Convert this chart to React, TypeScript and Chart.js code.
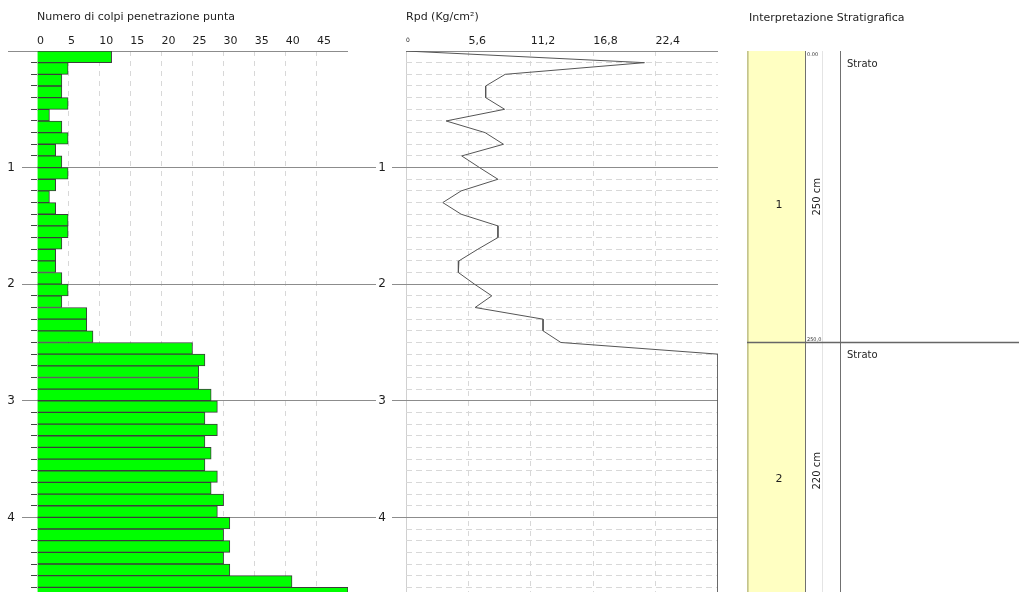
import React, { useEffect, useRef } from 'react';
import { Chart, registerables } from 'chart.js';

Chart.register(...registerables);

// ---------- data ----------
// bottom depth (m) of each 10 cm penetration step
const DEPTH_M = [
  0.1, 0.2, 0.3, 0.4, 0.5, 0.6, 0.7, 0.8, 0.9, 1.0,
  1.1, 1.2, 1.3, 1.4, 1.5, 1.6, 1.7, 1.8, 1.9, 2.0,
  2.1, 2.2, 2.3, 2.4, 2.5, 2.6, 2.7, 2.8, 2.9, 3.0,
  3.1, 3.2, 3.3, 3.4, 3.5, 3.6, 3.7, 3.8, 3.9, 4.0,
  4.1, 4.2, 4.3, 4.4, 4.5, 4.6, 4.7,
];
const STEP_M = 0.1;

// Numero di colpi penetrazione punta (one value per step)
const BLOWS = [
  12, 5, 4, 4, 5, 2, 4, 5, 3, 4,
  5, 3, 2, 3, 5, 5, 4, 3, 3, 4,
  5, 4, 8, 8, 9, 25, 27, 26, 26, 28,
  29, 27, 29, 27, 28, 27, 29, 28, 30, 29,
  31, 30, 31, 30, 31, 41, 50,
];

// Rpd (Kg/cm²) profile: depth of each vertex and its value (shown clipped at 28)
const RPD_DEPTH_M = [0, ...DEPTH_M];
const RPD = [
  0,
  21.4, 8.9, 7.15, 7.15, 8.85, 3.6, 7.1, 8.75, 5.0, 6.6,
  8.25, 4.95, 3.3, 4.95, 8.25, 8.25, 6.45, 4.75, 4.7, 6.15,
  7.7, 6.2, 12.3, 12.3, 13.9, 28, 28, 28, 28, 28,
  28, 28, 28, 28, 28, 28, 28, 28, 28, 28,
  28, 28, 28, 28, 28, 28, 28,
];

const BLOWS_MAX = 50;
const BLOWS_STEP = 5;
const RPD_MAX = 28;
const RPD_STEP = 5.6;
const DEPTH_MAX = 4.7;

// stratigraphy
const LAYER_TOP_M = [0, 2.5];
const LAYER_BOTTOM_M = [2.5, 4.7];
const LAYER_NO = ['1', '2'];
const LAYER_THICKNESS = ['250 cm', '220 cm'];
const LAYER_DESC = ['Strato', 'Strato'];
const BOUNDARY_DEPTH_M = [0, 2.5, 4.7];
const BOUNDARY_LABEL = ['0.00', '250,0', '470,0'];

const TITLE_BLOWS = 'Numero di colpi penetrazione punta';
const TITLE_RPD = 'Rpd (Kg/cm²)';
const TITLE_STRAT = 'Interpretazione Stratigrafica';

// ---------- styles ----------
const FONT = '"DejaVu Sans", Verdana, sans-serif';
const TEXT = '#1e1e1e';
const MAJOR = '#8c8c8c';
const MINOR = '#d8d8d8';
const CANVAS_H = 599;

const isInt = (v: number) => Math.abs(v - Math.round(v)) < 1e-6;

const noPad = (s: any) => {
  s.paddingTop = 0;
  s.paddingBottom = 0;
  s.paddingLeft = 0;
  s.paddingRight = 0;
};

function useChart(build: (c: HTMLCanvasElement) => Chart) {
  const ref = useRef<HTMLCanvasElement | null>(null);
  useEffect(() => {
    if (!ref.current) return;
    const chart = build(ref.current);
    return () => chart.destroy();
  }, []);
  return ref;
}

function buildBlows(canvas: HTMLCanvasElement) {
  const extendMajor = {
    id: 'extendMajor',
    afterDraw(chart: any) {
      const { ctx, chartArea, scales } = chart;
      const y = scales.y;
      ctx.save();
      ctx.strokeStyle = MAJOR;
      ctx.lineWidth = 1;
      y.ticks.forEach((t: any) => {
        if (t.value > 0 && isInt(t.value)) {
          const py = Math.round(y.getPixelForValue(t.value) - 0.5) + 0.5;
          ctx.beginPath();
          ctx.moveTo(chartArea.right, py);
          ctx.lineTo(chart.width, py);
          ctx.stroke();
        }
      });
      ctx.restore();
    },
  };
  return new Chart(canvas, {
    type: 'bar',
    data: {
      datasets: [
        {
          data: BLOWS.map((n, i) => ({ x: n, y: DEPTH_M[i] - STEP_M / 2 })),
          backgroundColor: '#00ff00',
          borderColor: '#3c3c3c',
          borderWidth: 1,
          borderSkipped: 'start',
          barPercentage: 1,
          categoryPercentage: 1,
        } as any,
      ],
    },
    options: {
      indexAxis: 'y',
      responsive: false,
      animation: false,
      layout: { padding: { left: 0, right: 28, top: 0, bottom: 0 } },
      plugins: { legend: { display: false }, tooltip: { enabled: false } },
      scales: {
        x: {
          type: 'linear',
          position: 'top',
          min: 0,
          max: BLOWS_MAX,
          afterFit: (s: any) => { s.height = 51; noPad(s); },
          border: { display: false, dash: [5, 5] },
          title: {
            display: true,
            text: TITLE_BLOWS,
            align: 'start',
            color: TEXT,
            font: { family: FONT, size: 11 },
            padding: { top: 11, bottom: 0 },
          },
          grid: {
            drawTicks: false,
            color: (c: any) => (c.tick && c.tick.value > 0 && c.tick.value < BLOWS_MAX ? MINOR : 'transparent'),
          },
          ticks: {
            stepSize: BLOWS_STEP,
            padding: 3,
            align: 'start',
            color: TEXT,
            font: { family: FONT, size: 11 },
            maxRotation: 0,
            autoSkip: false,
            callback: (v: any) => (v >= BLOWS_MAX ? '' : String(v)),
          },
        },
        y: {
          type: 'linear',
          reverse: true,
          min: 0,
          max: DEPTH_MAX,
          offset: false,
          afterFit: (s: any) => { s.width = 37; noPad(s); },
          border: { display: false },
          grid: {
            offset: false,
            color: (c: any) => (c.tick && isInt(c.tick.value) ? MAJOR : 'transparent'),
            tickLength: 29,
            tickColor: (c: any) => (c.tick && isInt(c.tick.value) ? MAJOR : '#444'),
            tickBorderDash: (c: any) => {
              const v = c.tick ? c.tick.value : 0;
              if (v < 1e-6) return [];
              if (isInt(v)) return [0, 14, 15, 100];
              return [0, 23, 6, 100];
            },
          },
          ticks: {
            stepSize: STEP_M,
            autoSkip: false,
            padding: -7,
            color: TEXT,
            font: { family: FONT, size: 12 },
            callback: (v: any) => (v > 0 && isInt(v) ? String(Math.round(v)) : ''),
          },
        },
      },
    } as any,
    plugins: [extendMajor],
  });
}

function buildRpd(canvas: HTMLCanvasElement) {
  return new Chart(canvas, {
    type: 'scatter',
    data: {
      datasets: [
        {
          data: RPD.map((v, i) => ({ x: v, y: RPD_DEPTH_M[i] })),
          showLine: true,
          borderColor: '#555555',
          borderWidth: 1,
          pointRadius: 0,
          fill: false,
        } as any,
      ],
    },
    options: {
      responsive: false,
      animation: false,
      layout: { padding: { left: 0, right: 12, top: 0, bottom: 0 } },
      plugins: { legend: { display: false }, tooltip: { enabled: false } },
      scales: {
        x: {
          type: 'linear',
          position: 'top',
          min: 0,
          max: RPD_MAX,
          afterFit: (s: any) => { s.height = 51; noPad(s); },
          border: {
            display: false,
            dash: (c: any) => (c.tick && c.tick.value > 1e-6 ? [5, 5] : []),
          },
          title: {
            display: true,
            text: TITLE_RPD,
            align: 'start',
            color: TEXT,
            font: { family: FONT, size: 11 },
            padding: { top: 11, bottom: 0 },
          },
          grid: {
            drawTicks: false,
            color: (c: any) => {
              const v = c.tick ? c.tick.value : 0;
              if (v >= RPD_MAX - 1e-6) return 'transparent';
              return v < 1e-6 ? '#d0d0d0' : MINOR;
            },
          },
          ticks: {
            stepSize: RPD_STEP,
            padding: 3,
            align: 'start',
            color: TEXT,
            maxRotation: 0,
            autoSkip: false,
            font: (c: any) =>
              c.tick && c.tick.value < 1e-6
                ? { family: FONT, size: 6, lineHeight: 2.6 }
                : { family: FONT, size: 11 },
            callback: (v: any) => {
              if (v >= RPD_MAX - 1e-6) return '';
              if (v < 1e-6) return '0';
              return Number(v).toFixed(1).replace('.', ',');
            },
          },
        },
        y: {
          type: 'linear',
          reverse: true,
          min: 0,
          max: DEPTH_MAX,
          offset: false,
          afterFit: (s: any) => { s.width = 30; noPad(s); },
          border: {
            display: false,
            dash: (c: any) => (c.tick && isInt(c.tick.value) ? [] : [6, 4]),
          },
          grid: {
            offset: false,
            color: (c: any) => (c.tick && isInt(c.tick.value) ? MAJOR : MINOR),
            tickLength: 14,
            tickColor: (c: any) => (c.tick && c.tick.value > 0 && isInt(c.tick.value) ? MAJOR : 'transparent'),
          },
          ticks: {
            stepSize: STEP_M,
            autoSkip: false,
            padding: 6,
            color: TEXT,
            font: { family: FONT, size: 12 },
            callback: (v: any) => (v > 0 && isInt(v) ? String(Math.round(v)) : ''),
          },
        },
      },
    } as any,
  });
}

function buildStrata(canvas: HTMLCanvasElement) {
  const strataDecor = {
    id: 'strataDecor',
    afterDraw(chart: any) {
      const { ctx, chartArea } = chart;
      const y = chart.scales.y;
      const top = chartArea.top;
      const bottom = chartArea.bottom;
      const r = Math.round(chartArea.right);
      const vline = (x: number, color: string) => {
        ctx.strokeStyle = color;
        ctx.lineWidth = 1;
        ctx.beginPath();
        ctx.moveTo(x + 0.5, top);
        ctx.lineTo(x + 0.5, bottom);
        ctx.stroke();
      };
      ctx.save();
      vline(r, '#707070');
      vline(r + 17, '#e4e4e4');
      vline(r + 35, '#707070');

      // boundaries between layers
      ctx.strokeStyle = '#666666';
      ctx.lineWidth = 1.5;
      LAYER_TOP_M.forEach((t) => {
        if (t <= 0) return;
        const py = y.getPixelForValue(t);
        ctx.beginPath();
        ctx.moveTo(chartArea.left, py);
        ctx.lineTo(chart.width, py);
        ctx.stroke();
      });

      // title
      ctx.fillStyle = TEXT;
      ctx.textBaseline = 'middle';
      ctx.textAlign = 'left';
      ctx.font = `11px ${FONT}`;
      ctx.fillText(TITLE_STRAT, chartArea.left + 2, 18);

      // depth marks
      ctx.font = `5px ${FONT}`;
      ctx.fillStyle = '#333';
      BOUNDARY_DEPTH_M.forEach((d, i) => {
        const py = y.getPixelForValue(d);
        ctx.fillText(BOUNDARY_LABEL[i], r + 2, i === 0 ? py + 4 : py - 3);
      });

      LAYER_TOP_M.forEach((t, i) => {
        const y0 = y.getPixelForValue(t);
        const y1 = y.getPixelForValue(LAYER_BOTTOM_M[i]);
        const mid = (y0 + y1) / 2;
        ctx.fillStyle = TEXT;
        ctx.font = `11px ${FONT}`;
        ctx.textAlign = 'center';
        ctx.fillText(LAYER_NO[i], (chartArea.left + r) / 2 + 3, mid + 8);

        ctx.save();
        ctx.translate(r + 12, mid);
        ctx.rotate(-Math.PI / 2);
        ctx.font = `10px ${FONT}`;
        ctx.fillText(LAYER_THICKNESS[i], 0, 0);
        ctx.restore();

        ctx.textAlign = 'left';
        ctx.font = `10px ${FONT}`;
        ctx.fillText(LAYER_DESC[i], r + 42, y0 + 13);
      });
      ctx.restore();
    },
  };
  return new Chart(canvas, {
    type: 'bar',
    data: {
      labels: [''],
      datasets: LAYER_TOP_M.map((t, i) => ({
        data: [[t, LAYER_BOTTOM_M[i]]],
        backgroundColor: '#ffffc2',
        borderColor: '#c4c48c',
        borderWidth: { left: 2, right: 0, top: 0, bottom: 0 },
        borderSkipped: false,
        barPercentage: 1,
        categoryPercentage: 1,
        grouped: false,
      })) as any,
    },
    options: {
      responsive: false,
      animation: false,
      layout: { padding: { left: 17, right: 214, top: 51, bottom: 0 } },
      plugins: { legend: { display: false }, tooltip: { enabled: false } },
      scales: {
        x: { type: 'category', display: false },
        y: { type: 'linear', display: false, reverse: true, min: 0, max: DEPTH_MAX },
      },
    } as any,
    plugins: [strataDecor],
  });
}

export default function App() {
  const blowsRef = useChart(buildBlows);
  const rpdRef = useChart(buildRpd);
  const strataRef = useChart(buildStrata);
  return (
    <div
      style={{
        position: 'fixed',
        left: 0,
        top: 0,
        width: 1019,
        height: 592,
        overflow: 'hidden',
        background: '#ffffff',
      }}
    >
      <canvas ref={blowsRef} width={376} height={CANVAS_H} style={{ position: 'absolute', left: 0, top: 0 }} />
      <canvas ref={rpdRef} width={354} height={CANVAS_H} style={{ position: 'absolute', left: 376, top: 0 }} />
      <canvas ref={strataRef} width={289} height={CANVAS_H} style={{ position: 'absolute', left: 730, top: 0 }} />
    </div>
  );
}
